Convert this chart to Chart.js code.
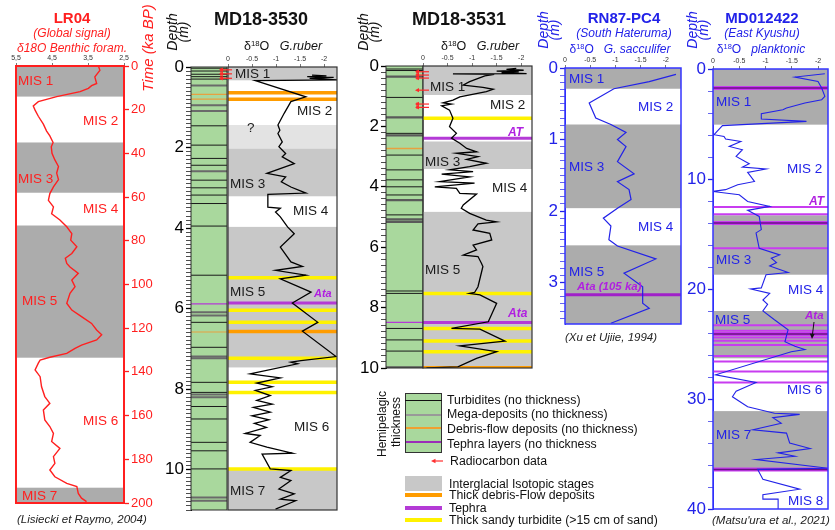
<!DOCTYPE html>
<html lang="en"><head><meta charset="utf-8"><title>Isotopic stratigraphy of cores</title>
<script src="https://cdn.jsdelivr.net/npm/chart.js@4.4.1/dist/chart.umd.min.js"></script>
<style>
html,body{margin:0;padding:0;background:#fff;}
#stage{position:relative;width:835px;height:530px;overflow:hidden;font-family:"Liberation Sans",Arial,sans-serif;}
.layer{position:absolute;left:0;top:0;width:835px;height:530px;pointer-events:none;}
.lbl{position:absolute;white-space:nowrap;line-height:1;}
sup{font-size:0.62em;vertical-align:0.5em;line-height:0;}
</style></head><body><div id="stage"></div>
<script>
// ================= DATA =================
// LR04 global stack (age ka BP, benthic d18O)
const lr04Age = [0,2,5,8,9,10.2,11.7,14,16.3,18.3,20.2,23,26.6,29.8,32,35,37,40,43,46,49,52,55.3,58.4,61.5,64.5,67.6,70.5,73.6,76.7,79.7,82.7,85.8,88,90.4,92,94.9,98,101,104,108.6,111.7,114.7,117.8,120.8,123,125.4,127.7,129.2,131.5,133.3,134.6,136,139.1,142.2,146.8,151.3,154.4,157.4,162,165,168.1,171.9,175,178.8,181.9,184.9,188,191,192.5,195.6,197.8,199.4];
const lr04D18O = [3.21,3.17,3.31,3.26,3.40,3.49,3.72,4.37,4.88,5.02,4.97,4.88,4.74,4.65,4.56,4.47,4.52,4.50,4.42,4.32,4.37,4.32,4.46,4.56,4.60,4.46,4.51,4.28,4.09,3.95,3.98,3.81,3.95,4.13,4.09,4.00,3.77,3.95,3.86,4.00,4.09,3.95,3.68,3.40,3.26,3.12,3.26,3.68,3.86,4.09,4.56,4.83,4.88,4.97,4.83,4.79,4.70,4.56,4.74,4.70,4.56,4.46,4.51,4.28,4.46,4.42,4.56,4.42,4.09,3.81,3.77,3.68,3.54];
const lr04Stages = [[0,14],[35,58],[73,133.5],[193,200]];
const lr04XTicks = [5.5,4.5,3.5,2.5];

// MD18-3530
const md3530Depth = [0.20,0.22,0.24,0.26,0.28,0.30,0.32,0.34,0.74,0.86,1.15,1.44,1.57,1.65,1.86,1.98,2.15,2.23,2.40,2.64,2.73,2.85,2.98,3.13,3.16,3.48,3.51,3.60,3.72,3.97,4.14,4.47,4.84,4.95,5.05,5.17,5.26,5.59,5.86,6.34,6.56,7.19,7.29,7.33,7.37,7.62,7.72,7.85,7.94,8.03,8.16,8.28,8.37,8.45,8.57,8.66,8.76,8.85,8.95,9.10,9.15,9.32,9.44,9.59,9.61,9.98,10.02,10.19,10.27,10.48,10.60,10.73,10.77,10.98];
const md3530D18O = [-1.75,-2.05,-1.65,-2.20,-1.70,-2.00,-2.30,-0.57,-1.62,-1.31,-1.17,-1.04,-1.08,-1.04,-1.13,-1.06,-1.20,-1.13,-1.38,-0.81,-1.20,-1.11,-1.31,-1.62,-0.83,-0.83,-1.09,-0.99,-1.09,-1.24,-1.38,-1.09,-1.31,-1.55,-0.99,-1.62,-1.09,-1.73,-1.34,-1.87,-1.55,-2.25,-1.52,-1.31,-1.45,-0.46,-1.09,-0.60,-0.92,-0.57,-0.88,-0.60,-0.92,-0.53,-0.88,-0.50,-0.85,-0.55,-0.80,-0.36,-0.67,-0.46,-0.81,-1.34,-0.71,-0.88,-1.31,-1.09,-1.31,-1.06,-1.38,-1.09,-1.41,-0.99];
const md3530Interglacial = [[0,0.33],[2.02,3.21],[3.97,7.46],[9.98,11]];
const md3530Uncertain = [[1.44,2.02]];
const md3530Debris = [0.64,0.80,6.57];
const md3530Sandy = [5.23,6.04,6.34,7.23,7.83,8.08,9.98];
const md3530Tephra = [5.86];
const md3530C14 = [0.07,0.17,0.28];
const md3530ColTurbidites = [0.03,0.10,0.18,0.24,0.30,1.46,1.94,2.27,2.44,2.81,3.00,3.18,3.39,3.95,5.17,6.34,6.96,7.83,8.08,8.43,8.74,9.32,9.53,9.98];
const md3530ColMega = [0.46,0.95,1.09,2.59,6.09,6.17,7.19,7.23,8.13,8.20,10.69,10.77];
const md3530ColDebris = [0.68,0.80,6.58];
const md3530ColTephra = [5.88];

// MD18-3531
const md3531Depth = [0.08,0.11,0.14,0.17,0.19,0.22,0.25,0.26,0.28,0.33,0.52,0.63,0.71,0.77,0.85,1.02,1.13,1.22,1.26,1.32,1.46,1.73,2.01,2.23,2.39,2.56,2.73,2.84,2.89,3.00,3.09,3.22,3.33,3.44,3.50,3.58,3.67,3.83,3.88,4.00,4.05,4.22,4.24,4.60,4.71,4.88,5.10,5.16,5.23,5.43,5.54,5.76,5.93,6.09,6.26,6.31,6.53,6.64,7.31,7.50,7.53,7.58,7.86,8.47,8.69,8.71,9.11,9.27,9.46,9.68,9.96,10.0];
const md3531D18O = [-1.90,-1.70,-2.05,-1.50,-1.95,-1.60,-2.11,-0.61,-1.45,-1.26,-0.95,-0.82,-1.22,-1.43,-1.29,-0.75,-0.61,-0.41,-0.58,-0.38,-0.54,-0.61,-0.54,-0.68,-0.58,-0.75,-0.89,-1.09,-0.68,-1.12,-0.89,-1.29,-0.95,-0.54,-1.02,-0.38,-0.95,-0.34,-1.05,-0.24,-0.68,-0.75,-1.09,-0.82,-0.78,-0.95,-1.29,-1.50,-1.12,-1.02,-1.36,-1.40,-1.02,-1.09,-0.82,-1.12,-1.19,-1.22,-1.12,-1.05,-0.95,-1.16,-1.50,-1.33,-0.58,-1.16,-1.67,-0.75,-1.50,-1.09,-0.71,-0.07];
const md3531Interglacial = [[0,0.96],[2.5,3.41],[4.83,10]];
const md3531Debris = [10.0];
const md3531Sandy = [1.73,7.53,8.69,9.11,9.46];
const md3531Tephra = [2.39,8.49];
const md3531C14 = [0.19,0.30,0.40,0.80,1.26,1.37];
const md3531ColTurbidites = [0.10,0.15,1.04,2.23,2.95,3.44,3.77,4.00,4.27,4.93,7.45,7.53,8.69,9.07,9.44];
const md3531ColMega = [0.35,1.70,2.30,4.44,5.08,5.16,9.98];
const md3531ColDebris = [2.73];
const md3531ColTephra = [8.49];

// RN87-PC4
const rn87Depth = [0.09,0.19,0.29,0.49,0.70,0.79,0.90,1.00,1.10,1.31,1.48,1.59,1.70,1.84,1.96,2.10,2.21,2.40,2.49,2.67,2.87,3.06,3.17,3.29,3.36,3.57];
const rn87D18O = [-2.20,-1.67,-0.97,-0.48,-0.61,-0.91,-1.21,-1.04,-1.21,-1.04,-1.37,-1.04,-1.27,-1.31,-1.04,-0.76,-0.91,-0.87,-1.04,-1.80,-1.17,-1.54,-1.54,-1.54,-1.67,-0.91];
const rn87Interglacial = [[0,0.29],[0.79,1.96],[2.48,3.58]];
const rn87Tephra = [3.17];

// MD012422
const mdKyDepth = [0.43,0.73,1.13,1.73,2.49,2.79,3.09,3.55,3.70,4.06,4.55,4.76,5.15,5.97,6.13,6.36,6.58,7.04,7.34,7.95,8.61,8.91,9.09,9.40,10.22,10.52,10.97,11.13,11.43,12.04,12.49,12.85,13.40,14.60,14.90,16.30,16.90,17.20,17.60,17.90,18.50,18.70,19.90,20.00,20.40,21.00,21.40,22.00,22.80,23.70,24.80,25.20,25.50,25.70,27.80,28.50,29.30,29.80,30.70,31.30,31.40,31.70,32.20,32.80,33.10,34.00,34.50,34.90,35.20,35.50,36.30,36.40,37.30,38.20,38.70,39.10,39.10,40.00];
const mdKyD18O = [-2.13,-1.56,-2.00,-2.07,-2.13,-2.07,-1.75,-1.40,-1.33,-0.92,-0.92,-1.78,-0.18,-0.02,-0.21,-0.24,-0.53,-0.31,-0.56,-0.44,-0.69,-0.56,-1.01,-0.66,-0.79,-0.47,-0.24,0.01,-0.50,-0.66,-1.08,-0.66,-0.88,-0.92,-0.82,-0.88,-1.27,-1.11,-1.21,-1.08,-1.43,-1.01,-0.92,-0.72,-1.08,-0.95,-1.04,-0.95,-1.17,-1.43,-1.37,-1.56,-1.75,-1.49,-0.05,-0.82,-0.44,-0.37,-0.66,-1.17,-1.65,-1.14,-1.30,-0.76,-1.40,-1.46,-1.85,-1.24,-1.56,-0.82,-2.20,-0.85,-0.95,-1.65,-0.95,-0.95,-1.24,-1.24];
const mdKyInterglacial = [[0,5.06],[13.3,18.7],[22.0,26.3],[31.1,36.3]];
const mdKyTephra = [12.55,13.2,16.3,23.3,23.8,24.4,24.7,25.1,26.1,26.6,27.5,28.5];
const mdKyTephraThick = [1.73,14.0,24.1,36.4];

const deltaTicks = [0,-0.5,-1,-1.5,-2];

// ================= STYLE =================
const FONT = '"Liberation Sans", Arial, sans-serif';
const RED = '#ff1f1f', BLUE = '#2222e8', PURPLE = '#b43ad6', PURPLE_TXT = '#b020e0';
const YELLOW = '#fff200', ORANGE = '#ff9c00', GREEN = '#a9d89d';
const GREY_DARK = '#acacac', GREY_MD = '#c8c8c8', GREY_LIGHT = '#e3e3e3';
Chart.defaults.font.family = FONT;
const stage = document.getElementById('stage');

const evenLabel = v => (Math.abs(v - Math.round(v)) < 1e-6 && Math.round(v) % 2 === 0) ? String(Math.round(v)) : '';
const intLabel = v => (Math.abs(v - Math.round(v)) < 1e-6) ? String(Math.round(v)) : '';

function series(xv, yv, color, width) {
  return { data: xv.map((v, i) => ({ x: v, y: yv[i] })), showLine: true, borderColor: color,
           borderWidth: width, pointRadius: 0, fill: false, tension: 0 };
}

function addChart(o) {
  const holder = document.createElement('div'); holder.className = 'layer';
  const cv = document.createElement('canvas'); cv.width = 835; cv.height = 530;
  cv.style.width = '835px'; cv.style.height = '530px';
  holder.appendChild(cv); stage.appendChild(holder);
  const r = o.rect, xs = o.x, ys = o.y;
  const xH = xs.display ? xs.height : 0;
  const yW = ys.display ? ys.width : 0;
  const pad = {
    top: r.t - xH, bottom: 530 - r.b,
    left: (ys.display && ys.position === 'left') ? r.l - yW : r.l,
    right: (ys.display && ys.position === 'right') ? 835 - r.r - yW : 835 - r.r
  };
  const yFmt = ys.fmt || (v => String(v));
  const decor = {
    id: 'decor',
    beforeDatasetsDraw(chart) {
      const ctx = chart.ctx, a = chart.chartArea, y = chart.scales.y;
      ctx.save();
      ctx.beginPath(); ctx.rect(a.left, a.top, a.width, a.height); ctx.clip();
      if (o.fill) { ctx.fillStyle = o.fill; ctx.fillRect(a.left, a.top, a.width, a.height); }
      (o.bands || []).forEach(g => g.ranges.forEach(rg => {
        const p0 = y.getPixelForValue(rg[0]), p1 = y.getPixelForValue(rg[1]);
        ctx.fillStyle = g.color; ctx.fillRect(a.left, Math.min(p0, p1), a.width, Math.abs(p1 - p0));
      }));
      (o.hlines || []).forEach(g => g.depths.forEach(d => {
        const p = y.getPixelForValue(d);
        ctx.strokeStyle = g.color; ctx.lineWidth = g.width;
        ctx.beginPath(); ctx.moveTo(a.left, p); ctx.lineTo(a.right, p); ctx.stroke();
        if (g.core) {
          ctx.strokeStyle = g.core; ctx.lineWidth = g.coreWidth;
          ctx.beginPath(); ctx.moveTo(a.left, p); ctx.lineTo(a.right, p); ctx.stroke();
        }
      }));
      ctx.restore();
    },
    afterDatasetsDraw(chart) {
      const ctx = chart.ctx, a = chart.chartArea, y = chart.scales.y;
      ctx.save();
      if (o.border) {
        ctx.strokeStyle = o.border.color; ctx.lineWidth = o.border.width;
        ctx.strokeRect(a.left, a.top, a.width, a.height);
      }
      if (o.arrows) {
        const A = o.arrows;
        ctx.strokeStyle = '#ff2a2a'; ctx.fillStyle = '#ff2a2a'; ctx.lineWidth = 1.2;
        A.depths.forEach(d => {
          const p = y.getPixelForValue(d), x0 = a.left + A.x0, x1 = a.left + A.x1;
          ctx.beginPath(); ctx.moveTo(x1, p); ctx.lineTo(x0 + 3, p); ctx.stroke();
          ctx.beginPath(); ctx.moveTo(x0, p); ctx.lineTo(x0 + 4, p - 2.2); ctx.lineTo(x0 + 4, p + 2.2); ctx.closePath(); ctx.fill();
        });
        (A.bars || []).forEach(b => {
          const p0 = y.getPixelForValue(b[0]), p1 = y.getPixelForValue(b[1]);
          ctx.beginPath(); ctx.moveTo(a.left + A.xb, p0 - 1.5); ctx.lineTo(a.left + A.xb, p1 + 1.5); ctx.stroke();
        });
      }
      ctx.restore();
    }
  };
  return new Chart(cv, {
    type: 'scatter',
    data: { datasets: o.datasets || [] },
    options: {
      responsive: false, animation: false, events: [],
      layout: { padding: pad },
      plugins: { legend: { display: false }, tooltip: { enabled: false } },
      scales: {
        x: {
          type: 'linear', position: 'top', display: xs.display, min: xs.min, max: xs.max, reverse: !!xs.reverse,
          afterFit: s => { s.height = xH; },
          afterBuildTicks: s => { if (xs.ticks) s.ticks = xs.ticks.map(v => ({ value: v })); },
          grid: { drawOnChartArea: false, drawTicks: true, tickLength: 3, color: '#555', lineWidth: 0.8 },
          border: { display: false },
          ticks: { font: { size: 7 }, color: '#333', padding: 1, maxRotation: 0, minRotation: 0, autoSkip: false,
                   callback: xs.fmt || (v => String(v)) }
        },
        y: {
          type: 'linear', position: ys.position || 'left', display: ys.display, min: ys.min, max: ys.max, reverse: true,
          afterFit: s => { s.width = yW; },
          grid: { drawOnChartArea: false, drawTicks: true, tickLength: ys.tickLength || 5, color: ys.color || '#000', lineWidth: 1,
                  tickWidth: c => (c.tick && yFmt(c.tick.value) !== '') ? 1.3 : 0.7 },
          border: { display: true, color: ys.color || '#000', width: 1 },
          ticks: { stepSize: ys.step, includeBounds: false, autoSkip: false, maxRotation: 0,
                   font: { size: ys.fontSize || 17 }, color: ys.color || '#000', padding: 2,
                   callback: yFmt }
        }
      }
    },
    plugins: [decor]
  });
}

// ================= CHARTS =================
// LR04
addChart({
  rect: { l: 16, t: 66, r: 124, b: 503 },
  x: { display: true, height: 14, min: 2.5, max: 5.5, reverse: true, ticks: lr04XTicks, fmt: v => v.toFixed(1).replace('.', ',') },
  y: { display: true, position: 'right', width: 34, min: 0, max: 200, step: 20, color: RED, fontSize: 13 },
  bands: [{ ranges: lr04Stages, color: GREY_DARK }],
  border: { color: RED, width: 2 },
  datasets: [series(lr04D18O, lr04Age, RED, 1.4)]
});

// MD18-3530 lithology column
addChart({
  rect: { l: 191, t: 67, r: 227, b: 510 },
  x: { display: false, min: 0, max: 1 },
  y: { display: true, position: 'left', width: 32, min: 0, max: 11, step: 0.1, fmt: evenLabel, fontSize: 17 },
  fill: GREEN,
  hlines: [
    { depths: md3530ColMega, color: '#6a6a6a', width: 2 },
    { depths: md3530ColTurbidites, color: '#1a1a1a', width: 1 },
    { depths: md3530ColDebris, color: '#e8a040', width: 1.2 },
    { depths: md3530ColTephra, color: PURPLE, width: 1.2 }
  ],
  border: { color: '#2a2a2a', width: 1 }
});
// MD18-3530 isotope plot
addChart({
  rect: { l: 228, t: 67, r: 337, b: 510 },
  x: { display: true, height: 14, min: -2.27, max: 0, reverse: true, ticks: deltaTicks },
  y: { display: false, min: 0, max: 11 },
  bands: [{ ranges: md3530Interglacial, color: GREY_MD }, { ranges: md3530Uncertain, color: GREY_LIGHT }],
  hlines: [
    { depths: md3530Sandy, color: YELLOW, width: 3.5 },
    { depths: md3530Debris, color: ORANGE, width: 3.5 },
    { depths: md3530Tephra, color: PURPLE, width: 3 }
  ],
  border: { color: '#333', width: 1.2 },
  arrows: { depths: md3530C14, x0: -9, x1: 4, xb: -7, bars: [[0.07, 0.28]] },
  datasets: [series(md3530D18O, md3530Depth, '#000', 1.3)]
});

// MD18-3531 lithology column
addChart({
  rect: { l: 386, t: 66, r: 423, b: 368 },
  x: { display: false, min: 0, max: 1 },
  y: { display: true, position: 'left', width: 32, min: 0, max: 10, step: 0.2, fmt: evenLabel, fontSize: 17 },
  fill: GREEN,
  hlines: [
    { depths: md3531ColMega, color: '#5a5a5a', width: 2.2 },
    { depths: md3531ColTurbidites, color: '#1a1a1a', width: 1 },
    { depths: md3531ColDebris, color: '#e8a040', width: 1.5 },
    { depths: md3531ColTephra, color: PURPLE, width: 1.2 }
  ],
  border: { color: '#2a2a2a', width: 1 }
});
// MD18-3531 isotope plot
addChart({
  rect: { l: 423, t: 66, r: 532, b: 368 },
  x: { display: true, height: 14, min: -2.22, max: 0, reverse: true, ticks: deltaTicks },
  y: { display: false, min: 0, max: 10 },
  bands: [{ ranges: md3531Interglacial, color: GREY_MD }],
  hlines: [
    { depths: md3531Sandy, color: YELLOW, width: 3.5 },
    { depths: md3531Debris, color: ORANGE, width: 4 },
    { depths: md3531Tephra, color: PURPLE, width: 3 }
  ],
  border: { color: '#333', width: 1.2 },
  arrows: { depths: md3531C14, x0: -8, x1: 6, xb: -6, bars: [[0.19, 0.40], [1.26, 1.37]] },
  datasets: [series(md3531D18O, md3531Depth, '#000', 1.3)]
});

// RN87-PC4
addChart({
  rect: { l: 565, t: 68, r: 681, b: 324 },
  x: { display: true, height: 14, min: -2.3, max: 0, reverse: true, ticks: deltaTicks },
  y: { display: true, position: 'left', width: 22, min: 0, max: 3.58, step: 0.1, fmt: intLabel, color: BLUE, fontSize: 17 },
  bands: [{ ranges: rn87Interglacial, color: GREY_DARK }],
  hlines: [{ depths: rn87Tephra, color: '#a020c8', width: 3 }],
  border: { color: '#3535ff', width: 1.5 },
  datasets: [series(rn87D18O, rn87Depth, BLUE, 1.2)]
});

// MD012422
addChart({
  rect: { l: 713, t: 69, r: 828, b: 509 },
  x: { display: true, height: 14, min: -2.19, max: 0, reverse: true, ticks: deltaTicks },
  y: { display: true, position: 'left', width: 27, min: 0, max: 40, step: 2, fmt: v => (v % 10 === 0 ? String(v) : ''), color: BLUE, fontSize: 17 },
  bands: [{ ranges: mdKyInterglacial, color: GREY_DARK }],
  hlines: [
    { depths: mdKyTephra, color: '#c83cf0', width: 2 },
    { depths: mdKyTephraThick, color: '#c83cf0', width: 4, core: '#6a0f85', coreWidth: 1.5 }
  ],
  border: { color: '#3535ff', width: 1.5 },
  datasets: [series(mdKyD18O, mdKyDepth, BLUE, 1.1)]
});

// ================= TEXT =================
function put(html, x, y, css, anchor, rot) {
  const d = document.createElement('div');
  d.className = 'lbl'; d.innerHTML = html;
  d.style.cssText += 'left:' + x + 'px;top:' + y + 'px;' + (css || '');
  let tr = anchor === 'l' ? 'translate(0,-50%)' : 'translate(-50%,-50%)';
  if (rot) tr += ' rotate(-90deg)';
  d.style.transform = tr;
  stage.appendChild(d);
}
const MIS = 'font-size:13.5px;';
// LR04
put('LR04', 72, 17, 'font-size:15px;font-weight:bold;color:' + RED);
put('(Global signal)', 72, 33, 'font-size:12px;font-style:italic;color:' + RED);
put('δ18O Benthic foram.', 72, 48, 'font-size:12px;font-style:italic;color:' + RED);
put('Time (ka BP)', 147, 48, 'font-size:15px;font-style:italic;color:' + RED, 'c', true);
[['MIS 1', 18, 81], ['MIS 2', 83, 121], ['MIS 3', 18, 179], ['MIS 4', 83, 209], ['MIS 5', 22, 301], ['MIS 6', 83, 421], ['MIS 7', 22, 496]]
  .forEach(m => put(m[0], m[1], m[2], MIS + 'color:' + RED, 'l'));
put('(Lisiecki et Raymo, 2004)', 17, 520, 'font-size:11.5px;font-style:italic;color:#222', 'l');

// MD18-3530
put('MD18-3530', 261, 18.5, 'font-size:18px;font-weight:bold;color:#111');
put('δ<sup>18</sup>O&nbsp;&nbsp;&nbsp;<i>G.ruber</i>', 283, 46, 'font-size:12.5px;color:#111');
put('Depth', 172, 32, 'font-size:14px;font-style:italic;color:#111', 'c', true);
put('(m)', 183, 32, 'font-size:14px;font-style:italic;color:#111', 'c', true);
[['MIS 1', 235, 74], ['MIS 2', 297, 111], ['?', 247, 128], ['MIS 3', 230, 184], ['MIS 4', 293, 211], ['MIS 5', 230, 292], ['MIS 6', 294, 427], ['MIS 7', 230, 491]]
  .forEach(m => put(m[0], m[1], m[2], MIS + 'color:#1a1a1a', 'l'));
put('Ata', 314, 293, 'font-size:11px;font-weight:bold;font-style:italic;color:' + PURPLE_TXT, 'l');

// MD18-3531
put('MD18-3531', 459, 18.5, 'font-size:18px;font-weight:bold;color:#111');
put('δ<sup>18</sup>O&nbsp;&nbsp;&nbsp;<i>G.ruber</i>', 480, 46, 'font-size:12.5px;color:#111');
put('Depth', 363, 32, 'font-size:14px;font-style:italic;color:#111', 'c', true);
put('(m)', 374, 32, 'font-size:14px;font-style:italic;color:#111', 'c', true);
[['MIS 1', 430, 87], ['MIS 2', 490, 105], ['MIS 3', 425, 162], ['MIS 4', 492, 188], ['MIS 5', 425, 270]]
  .forEach(m => put(m[0], m[1], m[2], MIS + 'color:#1a1a1a', 'l'));
put('AT', 508, 131.5, 'font-size:12px;font-weight:bold;font-style:italic;color:' + PURPLE_TXT, 'l');
put('Ata', 508, 313, 'font-size:12px;font-weight:bold;font-style:italic;color:' + PURPLE_TXT, 'l');

// RN87-PC4
put('RN87-PC4', 624, 17, 'font-size:15px;font-weight:bold;color:' + BLUE);
put('(South Hateruma)', 624, 33, 'font-size:12px;font-style:italic;color:' + BLUE);
put('δ<sup>18</sup>O&nbsp;&nbsp;&nbsp;<i>G. sacculifer</i>', 620, 49, 'font-size:12px;color:' + BLUE);
put('Depth', 543, 30, 'font-size:14px;font-style:italic;color:' + BLUE, 'c', true);
put('(m)', 554, 30, 'font-size:14px;font-style:italic;color:' + BLUE, 'c', true);
[['MIS 1', 569, 79], ['MIS 2', 638, 107], ['MIS 3', 569, 167], ['MIS 4', 638, 227], ['MIS 5', 569, 272]]
  .forEach(m => put(m[0], m[1], m[2], MIS + 'color:' + BLUE, 'l'));
put('Ata (105 ka)', 577, 287, 'font-size:11.5px;font-weight:bold;font-style:italic;color:' + PURPLE_TXT, 'l');
put('(Xu et Ujiie, 1994)', 565, 338, 'font-size:11.5px;font-style:italic;color:#222', 'l');

// MD012422
put('MD012422', 762, 17, 'font-size:15px;font-weight:bold;color:' + BLUE);
put('(East Kyushu)', 762, 33, 'font-size:12px;font-style:italic;color:' + BLUE);
put('δ<sup>18</sup>O&nbsp;&nbsp;&nbsp;<i>planktonic</i>', 761, 49, 'font-size:12px;color:' + BLUE);
put('Depth', 692, 30, 'font-size:14px;font-style:italic;color:' + BLUE, 'c', true);
put('(m)', 703, 30, 'font-size:14px;font-style:italic;color:' + BLUE, 'c', true);
[['MIS 1', 716, 102], ['MIS 2', 787, 169], ['MIS 3', 716, 260], ['MIS 4', 788, 290], ['MIS 5', 715, 320], ['MIS 6', 787, 390], ['MIS 7', 716, 435], ['MIS 8', 788, 501]]
  .forEach(m => put(m[0], m[1], m[2], MIS + 'color:' + BLUE, 'l'));
put('AT', 809, 201, 'font-size:12px;font-weight:bold;font-style:italic;color:' + PURPLE_TXT, 'l');
put('Ata', 805, 316, 'font-size:11.5px;font-weight:bold;font-style:italic;color:' + PURPLE_TXT, 'l');
put("(Matsu'ura et al., 2021)", 712, 521, 'font-size:11.5px;font-style:italic;color:#222', 'l');

// ================= LEGEND =================
function box(x, y, w, h, css) {
  const d = document.createElement('div');
  d.style.cssText = 'position:absolute;left:' + x + 'px;top:' + y + 'px;width:' + w + 'px;height:' + h + 'px;' + css;
  stage.appendChild(d);
}
box(405, 393, 37, 60, 'background:' + GREEN + ';border:1px solid #333;box-sizing:border-box;');
box(405, 400.2, 37, 1, 'background:#111;');
box(406, 414, 35, 2, 'background:#999;');
box(406, 427.3, 35, 2, 'background:#f0a030;');
box(406, 441.3, 35, 2, 'background:#9b2fb8;');
box(405, 476, 37, 15, 'background:' + GREY_MD + ';');
box(405, 493, 37, 4, 'background:' + ORANGE + ';');
box(405, 505.5, 37, 4, 'background:' + PURPLE + ';');
box(405, 518, 37, 4, 'background:' + YELLOW + ';');
put('Hemipelagic', 382, 424, 'font-size:12px;color:#111', 'c', true);
put('thickness', 396, 422, 'font-size:12px;color:#111', 'c', true);
const LG = 'font-size:12.3px;color:#111';
put('Turbidites (no thickness)', 447, 400, LG, 'l');
put('Mega-deposits (no thickness)', 447, 414.3, LG, 'l');
put('Debris-flow deposits (no thickness)', 447, 428.5, LG, 'l');
put('Tephra layers (no thickness', 447, 443.5, LG, 'l');
put('Radiocarbon data', 450, 461, LG, 'l');
put('Interglacial Isotopic stages', 449, 483.5, LG, 'l');
put('Thick debris-Flow deposits', 449, 495, LG, 'l');
put('Tephra', 449, 507.5, LG, 'l');
put('Thick sandy turbidite (>15 cm of sand)', 449, 520, LG, 'l');

// arrows (legend radiocarbon, Ata pointer)
const svgNS = 'http://www.w3.org/2000/svg';
const svg = document.createElementNS(svgNS, 'svg');
svg.setAttribute('width', '835'); svg.setAttribute('height', '530');
svg.style.cssText = 'position:absolute;left:0;top:0;pointer-events:none;';
svg.innerHTML =
  '<line x1="443" y1="461" x2="435" y2="461" stroke="#ff3030" stroke-width="1.2"/>' +
  '<polygon points="431,461 435.5,458.8 435.5,463.2" fill="#ff3030"/>' +
  '<line x1="814" y1="322" x2="812.5" y2="334" stroke="#111" stroke-width="1"/>' +
  '<polygon points="812,339 809.8,333.5 814.6,334" fill="#111"/>';
stage.appendChild(svg);
</script></body></html>
